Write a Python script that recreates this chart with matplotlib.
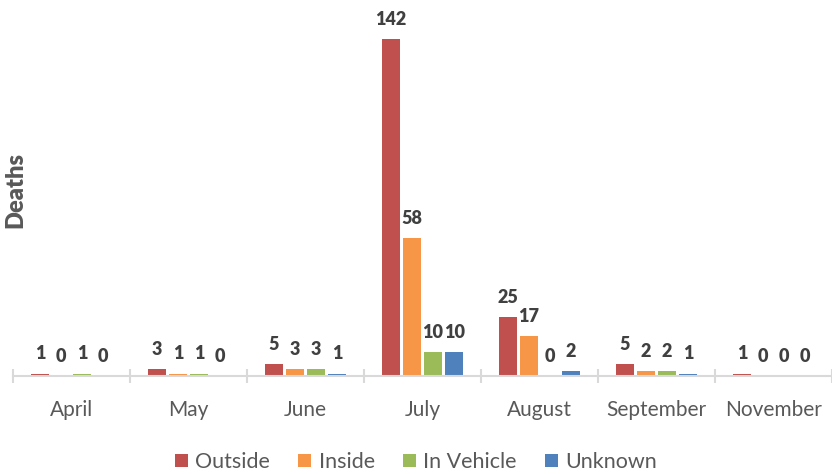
import matplotlib.pyplot as plt
import numpy as np

plt.rcParams['font.family'] = ['Lato', 'DejaVu Sans']

months = ['April', 'May', 'June', 'July', 'August', 'September', 'November']
series = ['Outside', 'Inside', 'In Vehicle', 'Unknown']
outside = [1, 3, 5, 142, 25, 5, 1]
inside = [0, 1, 3, 58, 17, 2, 0]
in_vehicle = [1, 1, 3, 10, 0, 2, 0]
unknown = [0, 0, 1, 10, 2, 1, 0]
colors = ['#C0504D', '#F79646', '#9BBB59', '#4F81BD']

fig = plt.figure(figsize=(8.32, 4.74), dpi=100)
ax = fig.add_axes([0.0156, 0.2068, 0.9844, 0.772])

x = np.arange(len(months))
step = 0.18
width = 0.155
for i, (vals, c, name) in enumerate(zip([outside, inside, in_vehicle, unknown], colors, series)):
    bars = ax.bar(x + (i - 1.5) * step, vals, width, color=c, label=name)
    ax.bar_label(bars, padding=8, fontsize=13, fontweight='heavy', color='#404040')

ax.set_xlim(-0.5, len(months) - 0.5)
ax.set_ylim(0, 154.2)
ax.set_yticks([])
for s in ['left', 'top', 'right']:
    ax.spines[s].set_visible(False)
ax.spines['bottom'].set_color('#D9D9D9')
ax.spines['bottom'].set_linewidth(1.5)

ax.set_xticks(x)
ax.set_xticklabels(months, fontsize=15, color='#595959')
ax.tick_params(axis='x', which='major', length=0, pad=17)
ax.set_xticks(np.arange(-0.5, len(months)), minor=True)
ax.tick_params(axis='x', which='minor', direction='inout', length=10, width=1.5, color='#D9D9D9')

fig.text(0.018, 0.6, 'Deaths', rotation=90, fontsize=17, fontweight='heavy',
         color='#595959', ha='center', va='center')

fig.legend(loc='lower center', bbox_to_anchor=(0.5, -0.037), ncol=4, frameon=False,
           fontsize=15.5, handlelength=0.6, handleheight=0.6, handletextpad=0.35,
           columnspacing=1.3, labelcolor='#595959')

fig.savefig('out.png', dpi=100)
